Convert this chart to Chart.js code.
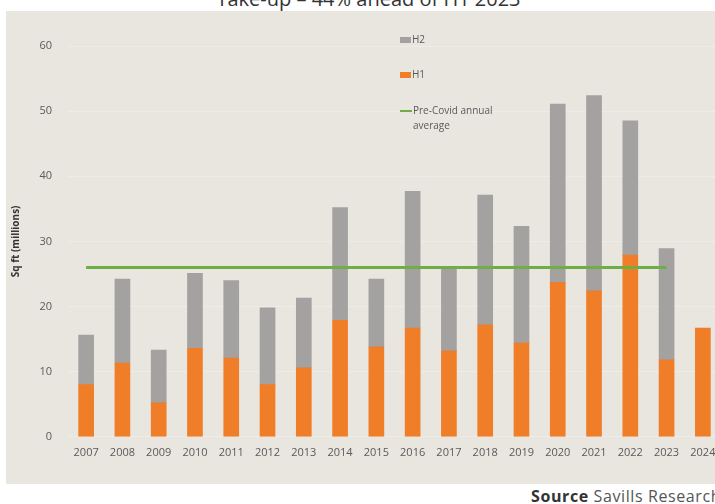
<!DOCTYPE html>
<html>
<head>
<meta charset="utf-8">
<script src="https://cdn.jsdelivr.net/npm/chart.js@4"></script>
<style>
	body {
		margin: 0;
		width: 715px;
		height: 504px;
		overflow: hidden;
		background: #ffffff;
		position: relative;
		font-family: "Open Sans", sans-serif;
	}
	.title {
		position: absolute;
		left: 0;
		width: 737px;
		top: -15px;
		text-align: center;
		font-size: 20px;
		color: #333333;
		white-space: nowrap;
	}
	.panel {
		position: absolute;
		left: 6px;
		top: 11px;
		width: 724px;
		height: 473px;
		background: #e9e5df;
	}
	.source {
		position: absolute;
		left: 531px;
		top: 485px;
		font-size: 16px;
		letter-spacing: 0.6px;
		color: #333333;
		white-space: nowrap;
	}
	.source span {
		color: #555555;
	}
</style>
</head>
<body>
<div class="title">Take-up – 44% ahead of H1 2023</div>
<div class="panel"><canvas id="takeup-chart" width="724" height="473"></canvas></div>
<div class="source"><strong>Source</strong> <span>Savills Research</span></div>
<script>
const years = ["2007", "2008", "2009", "2010", "2011", "2012", "2013", "2014", "2015", "2016", "2017", "2018", "2019", "2020", "2021", "2022", "2023", "2024"];
const h1 = [8.0, 11.3, 5.2, 13.6, 12.1, 8.0, 10.6, 17.9, 13.8, 16.7, 13.2, 17.2, 14.4, 23.7, 22.4, 27.9, 11.8, 16.7];
const totals = [15.6, 24.2, 13.3, 25.1, 24.0, 19.8, 21.3, 35.2, 24.2, 37.7, 25.9, 37.1, 32.3, 51.1, 52.4, 48.5, 28.9, null];
const h2 = totals.map((t, i) => (t === null ? null : +(t - h1[i]).toFixed(1)));
const preCovidAvg = [26, 26, 26, 26, 26, 26, 26, 26, 26, 26, 26, 26, 26, 26, 26, 26, 26, null];
const yTicks = [0, 10, 20, 30, 40, 50, 60];

const orange = "#f07d28";
const grey = "#a3a2a1";
const green = "#6fae47";
const tickColor = "#5a5a5a";

// legend drawn by hand, the original has it floating inside the plot
const floatingLegend = {
	id: "floatingLegend",
	afterDraw(chart) {
		const ctx = chart.ctx;
		ctx.save();
		ctx.font = "10px 'Open Sans', sans-serif";
		ctx.fillStyle = tickColor;
		ctx.textBaseline = "middle";

		ctx.fillStyle = grey;
		ctx.fillRect(394, 26, 11, 6);
		ctx.fillStyle = tickColor;
		ctx.fillText("H2", 406, 29);

		ctx.fillStyle = orange;
		ctx.fillRect(394, 61, 11, 6);
		ctx.fillStyle = tickColor;
		ctx.fillText("H1", 406, 64);

		ctx.strokeStyle = green;
		ctx.lineWidth = 2;
		ctx.beginPath();
		ctx.moveTo(394, 100);
		ctx.lineTo(406, 100);
		ctx.stroke();
		ctx.fillText("Pre-Covid annual", 407, 100);
		ctx.fillText("average", 407, 115);
		ctx.restore();
	},
};

document.addEventListener("DOMContentLoaded", () => {
	const ctx = document.getElementById("takeup-chart").getContext("2d");

	new Chart(ctx, {
		data: {
			labels: years,
			datasets: [
				{
					type: "line",
					label: "Pre-Covid annual average",
					data: preCovidAvg,
					borderColor: green,
					borderWidth: 3,
					pointRadius: 0,
					order: 0,
				},
				{
					type: "bar",
					label: "H1",
					data: h1,
					backgroundColor: orange,
					barThickness: 15,
					stack: "takeup",
					order: 1,
				},
				{
					type: "bar",
					label: "H2",
					data: h2,
					backgroundColor: grey,
					barThickness: 15,
					stack: "takeup",
					order: 2,
				},
			],
		},
		options: {
			responsive: false,
			animation: false,
			layout: {
				padding: { top: 35, right: 9, bottom: 24, left: 0 },
			},
			plugins: {
				legend: false,
				tooltip: { enabled: false },
			},
			scales: {
				x: {
					stacked: true,
					grid: { display: false },
					border: { display: false },
					ticks: {
						color: tickColor,
						padding: 1,
						maxRotation: 0,
						autoSkip: false,
						font: { family: "'Open Sans', sans-serif", size: 11 },
					},
				},
				y: {
					stacked: true,
					min: 0,
					max: 60,
					afterFit(scale) {
						scale.width = 62;
					},
					afterBuildTicks(scale) {
						scale.ticks = yTicks.map((v) => ({ value: v }));
					},
					title: {
						display: true,
						text: "Sq ft (millions)",
						color: "#333333",
						font: { family: "'Open Sans', sans-serif", size: 10, weight: "bold" },
					},
					grid: { color: "#efece8", drawTicks: false },
					border: { display: false },
					ticks: {
						color: tickColor,
						padding: 16,
						font: { family: "'Open Sans', sans-serif", size: 11 },
					},
				},
			},
		},
		plugins: [floatingLegend],
	});
});
</script>
</body>
</html>
